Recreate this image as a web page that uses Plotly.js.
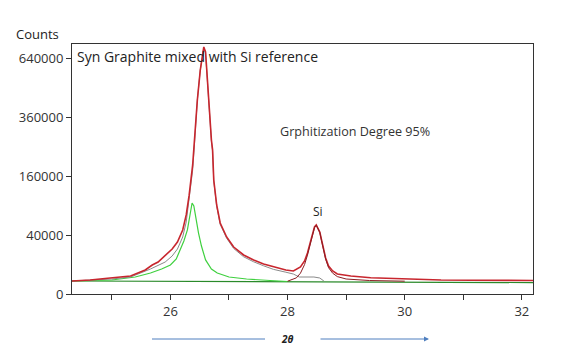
<!DOCTYPE html>
<html>
<head>
<meta charset="utf-8">
<script src="https://cdn.plot.ly/plotly-3.0.1.min.js"></script>
<style>html,body{margin:0;padding:0;background:#fff;}#chart{width:577px;height:354px;}</style>
</head>
<body>
<div id="chart"></div>
<script>
// Measured pattern (2theta, counts)
var measuredX = [24.32,24.63,24.97,25.32,25.57,25.69,25.79,25.91,26.03,26.12,26.21,26.27,26.32,26.38,26.41,26.46,26.51,26.55,26.57,26.60,26.63,26.67,26.70,26.72,26.74,26.79,26.85,26.96,27.08,27.25,27.42,27.59,27.76,27.97,28.10,28.22,28.29,28.34,28.39,28.43,28.46,28.49,28.51,28.55,28.58,28.62,28.65,28.70,28.77,28.85,29.08,29.42,29.98,30.62,31.13,31.64,32.19];
var measuredY = [1950,2270,2960,3750,6660,9730,11840,16700,23400,31300,47400,72200,113000,192500,274000,435000,580000,677000,705600,677000,530000,370700,274000,240000,150300,91600,58300,37600,25500,17600,13400,10400,8430,6660,6120,8430,12600,19400,31300,43000,51900,55100,51900,44400,33700,22400,15000,9070,6120,4630,3750,3070,2600,2270,2200,2150,2100];

// Graphite fit sum
var fitX = [24.32,25.0,25.32,25.66,25.91,26.03,26.12,26.21,26.27,26.32,26.38,26.41,26.46,26.51,26.55,26.57,26.60,26.63,26.67,26.70,26.72,26.74,26.79,26.85,26.96,27.08,27.25,27.42,27.59,27.76,27.97,28.10,28.20,28.30,28.45,28.55,28.62];
var fitY = [1950,2600,3340,7230,11800,16700,23400,37600,60000,102000,178000,257000,435000,580000,677000,700000,670000,525000,365000,270000,235000,147000,89000,56000,36000,24000,16000,12000,9200,7000,5500,4600,3340,3340,3340,2960,1950];

// Graphite component peak
var compX = [24.32,25.0,25.4,25.66,25.85,26.0,26.1,26.17,26.23,26.29,26.33,26.37,26.40,26.44,26.48,26.53,26.6,26.7,26.8,27.0,27.3,27.7,28.0];
var compY = [1950,2270,3340,5100,7230,9730,14200,22400,32500,47400,70400,95700,89500,63300,43000,26600,13400,7230,5100,3340,2600,2100,1800];

// Si peak fit
var siX = [28.0,28.15,28.22,28.29,28.34,28.39,28.43,28.46,28.49,28.51,28.55,28.58,28.62,28.65,28.70,28.77,28.85,29.0,29.4,30.0];
var siY = [1900,3000,5000,10000,17500,30000,42000,51000,54500,51500,44000,33000,21500,14000,8000,5000,3500,2600,2100,1900];

// Background
var bgX = [24.32,28.0,32.19];
var bgY = [1950,1700,1500];

// Axis ticks
var yTickCounts = [0,40000,160000,360000,640000];
var xTickVals = [25,26,27,28,29,30,31,32];
var xTickText = ['','26','','28','','30','','32'];

function sq(a){return a.map(function(v){return Math.sqrt(v);});}

var traces = [
  {x:bgX, y:sq(bgY), mode:'lines', line:{color:'#2a8a2a', width:1.2}},
  {x:compX, y:sq(compY), mode:'lines', line:{color:'#3fd03f', width:1.2}},
  {x:fitX, y:sq(fitY), mode:'lines', line:{color:'#8a8a8a', width:1}},
  {x:measuredX, y:sq(measuredY), mode:'lines', line:{color:'#c8262e', width:1.6}},
  {x:siX, y:sq(siY), mode:'lines', line:{color:'#8c1c22', width:1}}
];

var F = '"Open Sans", "Noto Sans", sans-serif';
var layout = {
  width:577, height:354,
  margin:{l:72, r:44, t:44, b:60},
  paper_bgcolor:'#fff', plot_bgcolor:'#fff',
  showlegend:false, hovermode:false,
  font:{family:F, size:13, color:'#333'},
  xaxis:{range:[24.32,32.19], tickvals:xTickVals, ticktext:xTickText, ticks:'outside', ticklen:5, tickcolor:'#333',
         showline:true, linecolor:'#333', linewidth:1, mirror:true, showgrid:false, zeroline:false,
         tickfont:{family:F, size:13, color:'#333'}},
  yaxis:{range:[0,850], tickvals:sq(yTickCounts), ticktext:yTickCounts.map(String), ticks:'outside', ticklen:5, tickcolor:'#333',
         showline:true, linecolor:'#333', linewidth:1, mirror:true, showgrid:false, zeroline:false,
         tickfont:{family:F, size:13, color:'#333'}},
  annotations:[
    {xref:'paper', yref:'paper', x:(14-72)/461, y:(294-34)/250, xanchor:'left', yanchor:'middle', text:'Counts', showarrow:false, font:{family:F,size:13,color:'#222'}},
    {xref:'paper', yref:'paper', x:0.006, y:0.995, xanchor:'left', yanchor:'top', text:'Syn Graphite mixed with Si reference', showarrow:false, font:{family:F,size:14,color:'#222'}},
    {xref:'paper', yref:'paper', x:(278-72)/461, y:(294-131)/250, xanchor:'left', yanchor:'middle', text:'Grphitization Degree 95%', showarrow:false, font:{family:F,size:12.6,color:'#333'}},
    {xref:'x', yref:'y', x:28.52, y:Math.sqrt(55100), xanchor:'center', yanchor:'bottom', yshift:3, text:'Si', showarrow:false, font:{family:F,size:12,color:'#222'}},
    {xref:'paper', yref:'paper', x:(287-72)/461, y:(294-339)/250, xanchor:'center', yanchor:'middle', text:'<i><b>2θ</b></i>', showarrow:false, font:{family:F,size:10,color:'#222'}},
    {xref:'paper', yref:'paper', x:(429-72)/461, y:(294-339)/250, ax:-110, ay:0, axref:'pixel', ayref:'pixel', text:'', showarrow:true, arrowhead:2, arrowsize:1, arrowwidth:1, arrowcolor:'#4f7fbf'}
  ],
  shapes:[
    {type:'line', xref:'paper', yref:'paper', x0:(152-72)/461, x1:(265-72)/461, y0:(294-339)/250, y1:(294-339)/250, line:{color:'#4f7fbf', width:1}}
  ]
};

Plotly.newPlot('chart', traces, layout, {staticPlot:true, displayModeBar:false});
</script>
</body>
</html>
